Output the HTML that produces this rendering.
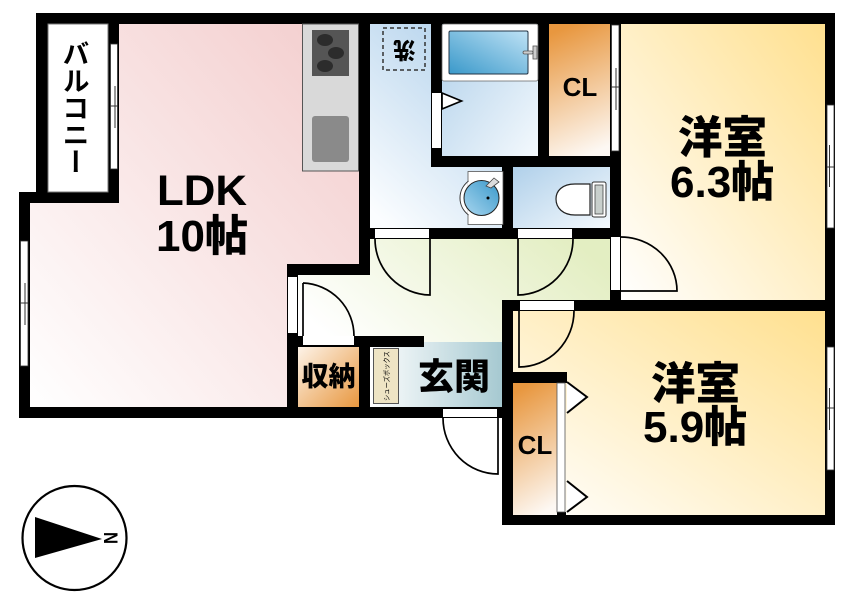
<!DOCTYPE html>
<html><head><meta charset="utf-8"><style>
html,body{margin:0;padding:0;background:#fff}
svg{display:block}
text{font-family:"Liberation Sans","Noto Sans CJK JP",sans-serif;font-weight:700;fill:#000}
.j{font-family:"Noto Sans CJK JP",sans-serif;font-weight:900}
.d{fill:none;stroke:#000;stroke-width:1.7}
</style></head><body>
<svg width="852" height="608" viewBox="0 0 852 608" xmlns="http://www.w3.org/2000/svg">
<defs>
<linearGradient id="pink" x1="1" y1="0" x2="0" y2="1"><stop offset="0" stop-color="#f3cccc"/><stop offset="1" stop-color="#fff"/></linearGradient>
<linearGradient id="blue" x1="0.75" y1="0" x2="0.15" y2="1"><stop offset="0" stop-color="#b3d2ec"/><stop offset="1" stop-color="#fbfdff"/></linearGradient>
<linearGradient id="blue2" x1="0" y1="0" x2="1" y2="1"><stop offset="0" stop-color="#b0d0ea"/><stop offset="1" stop-color="#f4f9fd"/></linearGradient>
<linearGradient id="yel" x1="1" y1="0" x2="0" y2="1"><stop offset="0" stop-color="#ffe08f"/><stop offset="1" stop-color="#fff"/></linearGradient>
<linearGradient id="or" x1="0.4" y1="0" x2="0.6" y2="1"><stop offset="0" stop-color="#e8973f"/><stop offset="1" stop-color="#fdf8f3"/></linearGradient>
<linearGradient id="or2" x1="1" y1="1" x2="0" y2="0"><stop offset="0" stop-color="#e8973f"/><stop offset="1" stop-color="#fdf3e8"/></linearGradient>
<linearGradient id="gen" x1="0" y1="0" x2="1" y2="0"><stop offset="0" stop-color="#fff"/><stop offset="1" stop-color="#a6c9d1"/></linearGradient>
<linearGradient id="hall" x1="0" y1="0.7" x2="1" y2="0.3"><stop offset="0" stop-color="#fff"/><stop offset="1" stop-color="#e3eec2"/></linearGradient>
<linearGradient id="tub" x1="0" y1="1" x2="1" y2="0"><stop offset="0" stop-color="#3a99ca"/><stop offset="1" stop-color="#bfe2f5"/></linearGradient>
<linearGradient id="bas" x1="1" y1="0" x2="0" y2="1"><stop offset="0" stop-color="#3a99ca"/><stop offset="1" stop-color="#a9d6ef"/></linearGradient>
</defs>

<!-- room fills -->
<polygon points="30,203 119,203 119,24 359,24 359,264 287,264 287,407 30,407" fill="url(#pink)"/>
<polygon points="370,24 431,24 431,156 502,156 502,228 370,228" fill="url(#blue)"/>
<rect x="442" y="24" width="96" height="132" fill="url(#blue2)"/>
<rect x="513" y="167" width="97" height="61" fill="url(#blue2)"/>
<rect x="549" y="24" width="61" height="132" fill="url(#or)"/>
<rect x="621" y="24" width="204" height="276" fill="url(#yel)"/>
<rect x="513" y="311" width="312" height="204" fill="url(#yel)"/>
<polygon points="370,239 610,239 610,300 502,300 502,342 298,342 298,275 370,275" fill="url(#hall)"/>
<rect x="370" y="342" width="132" height="65" fill="url(#gen)"/>
<rect x="298" y="347" width="61" height="60" fill="url(#or2)"/>
<rect x="513" y="383" width="44" height="132" fill="url(#or)"/>

<!-- walls -->
<g fill="#000">
<rect x="36" y="13" width="799" height="11"/>
<rect x="36" y="13" width="12" height="190"/>
<rect x="108" y="13" width="11" height="190"/>
<rect x="19" y="192" width="100" height="11"/>
<rect x="19" y="192" width="11" height="226"/>
<rect x="19" y="407" width="483" height="11"/>
<rect x="359" y="13" width="11" height="262"/>
<rect x="287" y="264" width="83" height="11"/>
<rect x="287" y="264" width="11" height="154"/>
<rect x="287" y="336" width="137" height="11"/>
<rect x="359" y="336" width="11" height="82"/>
<rect x="431" y="13" width="11" height="154"/>
<rect x="538" y="13" width="11" height="154"/>
<rect x="431" y="156" width="190" height="11"/>
<rect x="610" y="13" width="11" height="298"/>
<rect x="502" y="156" width="11" height="83"/>
<rect x="359" y="228" width="262" height="11"/>
<rect x="502" y="300" width="333" height="11"/>
<rect x="502" y="300" width="11" height="225"/>
<rect x="502" y="372" width="65" height="11"/>
<rect x="502" y="515" width="333" height="10"/>
<rect x="557" y="512" width="9" height="13"/>
<rect x="825" y="13" width="10" height="512"/>
</g>

<!-- balcony -->
<rect x="48" y="24" width="60" height="168" fill="#fff" stroke="#777" stroke-width="1"/>
<text class="j" x="76" y="40" font-size="27" style="writing-mode:vertical-rl;font-weight:700">バルコニー</text>

<!-- windows -->
<g fill="#fff" stroke="#333" stroke-width="0.8">
<rect x="110.500" y="44" width="7" height="125"/>
<rect x="611.500" y="25" width="7.500" height="126"/>
<rect x="20.500" y="241" width="7.500" height="125"/>
<rect x="827" y="105" width="7" height="123"/>
<rect x="827" y="347" width="7" height="123"/>
</g>
<g stroke="#333" stroke-width="1">
<path d="M115 86v42M110 106h8"/>
<path d="M616 68v42M611 87h8"/>
<path d="M25 283v42M20 303h8"/>
<path d="M829.500 145v42M827 167h7"/>
<path d="M829.500 388v42M827 408h7"/>
</g>

<!-- door openings -->
<g fill="#fff">
<rect x="432" y="93" width="9" height="55"/>
<rect x="375" y="229" width="54" height="9"/>
<rect x="518" y="229" width="54" height="9"/>
<rect x="611" y="237" width="9" height="53"/>
<rect x="288" y="277" width="9" height="56"/>
<rect x="303" y="336" width="51" height="9"/>
<rect x="520" y="301" width="54" height="9"/>
<rect x="443" y="409" width="54" height="8"/>
</g>
<rect x="557" y="383" width="8" height="129" fill="#fff" stroke="#555" stroke-width="0.800"/>

<!-- door leaves -->
<path class="d" d="M375 239A56 56 0 0 0 430 295V239"/>
<path class="d" d="M573 239A56 56 0 0 1 518 295V239"/>
<path class="d" d="M621 237A56 54 0 0 1 677 291H621"/>
<path class="d" d="M303 283A53 53 0 0 1 354 336M303 283V336"/>
<path class="d" d="M574 311A55 56 0 0 1 519 367V311"/>
<path class="d" d="M443 418A55 56 0 0 0 498 474V418"/>
<path d="M442 93L461.500 101L442 109Z" fill="#fff" stroke="#000" stroke-width="1.700"/>
<path d="M567 382L587 397L567 413" fill="#fff" stroke="#000" stroke-width="2"/>
<path d="M567 481L587 497L567 512" fill="#fff" stroke="#000" stroke-width="2"/>

<!-- kitchen -->
<rect x="302.500" y="24" width="56" height="147" fill="#d9d9d9" stroke="#555" stroke-width="1"/>
<rect x="312" y="30" width="37" height="46" fill="#555"/>
<ellipse cx="325" cy="40" rx="8" ry="6" fill="#2c2c2c"/>
<ellipse cx="336" cy="53" rx="8" ry="6" fill="#2c2c2c"/>
<ellipse cx="325" cy="66" rx="8" ry="6" fill="#2c2c2c"/>
<rect x="312" y="116" width="37" height="46" rx="3" fill="#8a8a8a"/>

<!-- washer -->
<rect x="383" y="28" width="42" height="42" fill="none" stroke="#333" stroke-width="1.500" stroke-dasharray="4 3"/>
<text class="j" x="404.500" y="57" font-size="22" text-anchor="middle" transform="rotate(180 404.500 49.500)">洗</text>

<!-- bath -->
<rect x="442" y="24" width="96" height="57" rx="2" fill="#fff" stroke="#666" stroke-width="0.800"/>
<rect x="449" y="31" width="79" height="43" rx="1.500" fill="url(#tub)" stroke="#234" stroke-width="1"/>
<rect x="533" y="46" width="4" height="13" fill="#ccc" stroke="#555" stroke-width="0.800"/>
<rect x="523" y="51" width="10" height="3" rx="1.500" fill="#ccc" stroke="#555" stroke-width="0.800"/>

<!-- basin -->
<rect x="468" y="171.500" width="35" height="53" fill="#fff" stroke="#555" stroke-width="0.800"/>
<path d="M468 181.500A21 21 0 0 0 468 214.500Z" fill="#fff" stroke="#333" stroke-width="1"/>
<rect x="467.600" y="182" width="2" height="32" fill="#fff"/>
<circle cx="481.500" cy="198" r="17.500" fill="url(#bas)" stroke="#222" stroke-width="1"/>
<circle cx="488" cy="198" r="1.500" fill="#000"/>
<path d="M486 186L494 178L499 182L491 188Z" fill="#ddd" stroke="#444" stroke-width="0.800"/>

<!-- toilet -->
<rect x="592" y="182" width="14" height="35" rx="2" fill="#fff" stroke="#333" stroke-width="1"/>
<rect x="595" y="185" width="8" height="29" fill="#c8cfcc" stroke="#444" stroke-width="0.800"/>
<path d="M590 184H575C562 184 556 191 556 199C556 208 563 215 575 215H590Z" fill="#fff" stroke="#222" stroke-width="1.200"/>

<!-- shoe box -->
<rect x="373.500" y="348.500" width="25" height="55" fill="#eee4c4" stroke="#555" stroke-width="1"/>
<text class="j" transform="translate(389 401) rotate(-90)" font-size="7" style="font-weight:400" textLength="50" lengthAdjust="spacingAndGlyphs">シューズボックス</text>

<!-- labels -->
<text x="157" y="205" font-size="43" textLength="90" lengthAdjust="spacingAndGlyphs">LDK</text>
<text x="156" y="251" font-size="44">10<tspan class="j" font-size="43">帖</tspan></text>
<text class="j" x="722.500" y="153" font-size="44.500" text-anchor="middle">洋室</text>
<text x="670" y="197" font-size="44">6.3<tspan class="j" font-size="43">帖</tspan></text>
<text class="j" x="695.500" y="399" font-size="44.500" text-anchor="middle">洋室</text>
<text x="643" y="442" font-size="44">5.9<tspan class="j" font-size="43">帖</tspan></text>
<text class="j" x="454" y="389" font-size="36" text-anchor="middle">玄関</text>
<text class="j" x="328.500" y="386" font-size="27" text-anchor="middle">収納</text>
<text x="580" y="96" font-size="26" text-anchor="middle">CL</text>
<text x="535" y="454" font-size="26" text-anchor="middle">CL</text>

<!-- compass -->
<circle cx="74.500" cy="538" r="52" fill="#fff" stroke="#000" stroke-width="2.200"/>
<polygon points="35,517 102,539 35,558" fill="#000"/>
<text transform="translate(104 532) rotate(90)" font-size="19" textLength="12" lengthAdjust="spacingAndGlyphs">N</text>
</svg>
</body></html>
